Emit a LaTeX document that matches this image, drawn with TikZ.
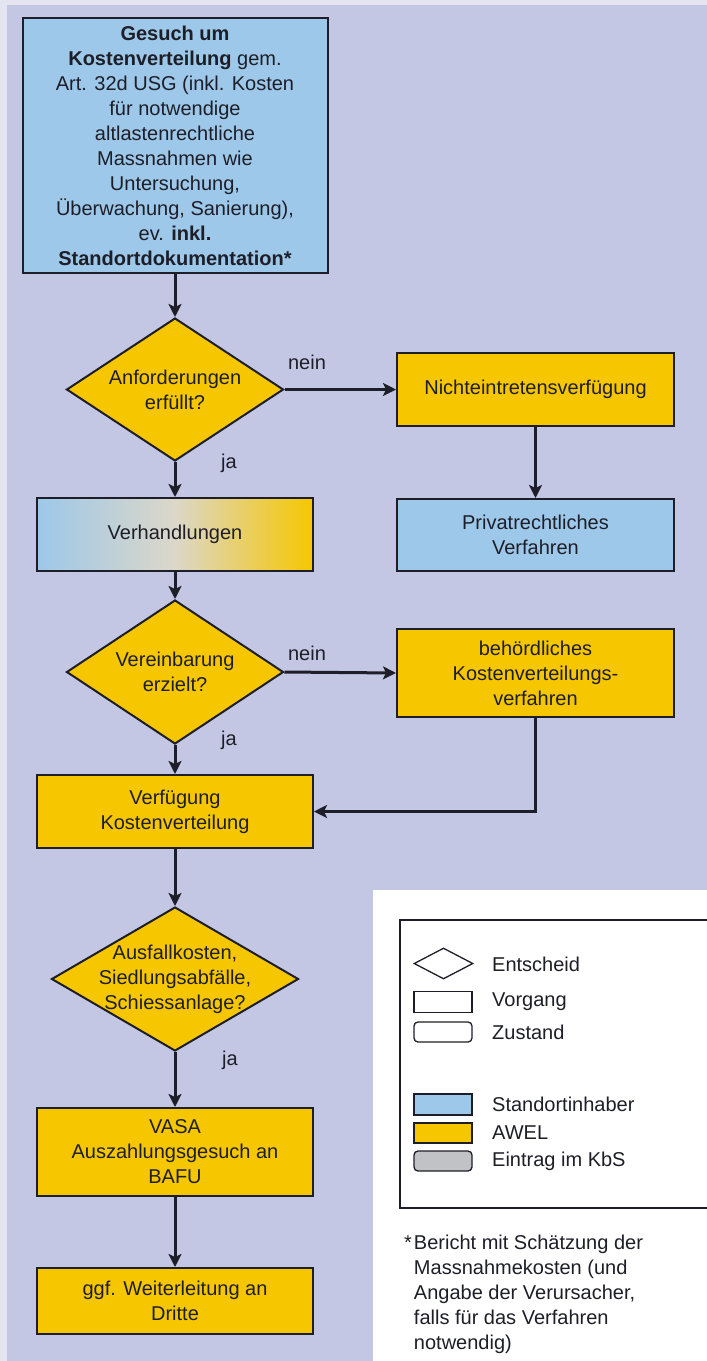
\documentclass[tikz,border=0pt]{standalone}
\usepackage{fontspec}
\setmainfont{Liberation Sans}
\usetikzlibrary{shapes.geometric,arrows.meta,calc}
\definecolor{lav}{HTML}{C3C7E4}
\definecolor{pale}{HTML}{E4E5F1}
\definecolor{blu}{HTML}{9DC8E9}
\definecolor{yel}{HTML}{F6C700}
\definecolor{gry}{HTML}{C0C2C6}
\definecolor{midc}{HTML}{DCD7C9}
\definecolor{ink}{HTML}{1E1E28}
\begin{document}
\begin{tikzpicture}[x=1pt,y=-1pt,
  font=\fontsize{20}{25}\selectfont, text=ink,
  box/.style={draw=ink, line width=2pt, rectangle, inner sep=0pt, align=center,
              minimum width=276pt},
  dia/.style={draw=ink, line width=2pt, diamond, fill=yel, inner sep=0pt},
  arr/.style={draw=ink, line width=3pt, -{Stealth[length=13pt,width=13pt,inset=3pt]}},
  lbl/.style={inner sep=0pt},
  lgsym/.style={draw=ink, line width=1.3pt, rectangle, inner sep=0pt,
                minimum width=58pt, minimum height=21pt},
  lgtxt/.style={anchor=west, inner sep=0pt}]
\useasboundingbox (0,0) rectangle (707,1361);
% background
\fill[pale] (0,0) rectangle (707,1361);
\fill[lav] (7,5) -- (707,5) -- (707,890) -- (373,890) -- (373,1361) -- (7,1361) -- cycle;
\fill[white] (373,890) rectangle (707,1361);

% flow nodes
\node[box, fill=blu, minimum width=305pt, minimum height=255pt] (gesuch) at (175,145.5)
  {\textbf{Gesuch um}\\\textbf{Kostenverteilung} gem.\\Art. 32d USG (inkl. Kosten\\für notwendige\\altlastenrechtliche\\Massnahmen wie\\Untersuchung,\\Überwachung, Sanierung),\\ev. \textbf{inkl.}\\\textbf{Standortdokumentation*}};

\node[dia, minimum width=217pt, minimum height=143pt,
      label={[align=center, inner sep=0pt]center:Anforderungen\\erfüllt?}] (d1) at (175,389.5) {};
\node[box, fill=yel, minimum width=277pt, minimum height=73pt] (nicht) at (535.5,389.5) {Nichteintretensverfügung};
\node[box, left color=blu, right color=yel, middle color=midc, minimum height=73pt] (verh) at (175,534.5) {Verhandlungen};
\node[box, fill=blu, minimum width=277pt, minimum height=72pt] (privat) at (535.5,535) {Privatrechtliches\\Verfahren};

\node[dia, minimum width=217pt, minimum height=144pt,
      label={[align=center, inner sep=0pt]center:Vereinbarung\\erzielt?}] (d2) at (175,672) {};
\node[box, fill=yel, minimum width=277pt, minimum height=88pt] (behoerd) at (535.5,673) {behördliches\\Kostenverteilungs-\\verfahren};
\node[box, fill=yel, minimum height=73pt] (verf) at (175,811.5) {Verfügung\\Kostenverteilung};

\node[dia, minimum width=247pt, minimum height=144pt,
      label={[align=center, inner sep=0pt]center:Ausfallkosten,\\Siedlungsabfälle,\\Schiessanlage?}] (d3) at (175,979) {};
\node[box, fill=yel, minimum height=88pt] (vasa) at (175,1152) {VASA\\Auszahlungsgesuch an\\BAFU};
\node[box, fill=yel, minimum height=66pt] (weiter) at (175,1301) {ggf. Weiterleitung an\\Dritte};

% connectors
\draw[arr] (gesuch.south) -- (d1.north);
\draw[arr] (d1.east) -- (nicht.west);
\draw[arr] (d1.south) -- (verh.north);
\draw[arr] (nicht.south) -- (privat.north);
\draw[arr] (verh.south) -- (d2.north);
\draw[arr] (d2.east) -- (behoerd.west);
\draw[arr] (d2.south) -- (verf.north);
\draw[arr] (behoerd.south) |- (verf.east);
\draw[arr] (verf.south) -- (d3.north);
\draw[arr] (d3.south) -- (vasa.north);
\draw[arr] (vasa.south) -- (weiter.north);

% connector labels
\node[lbl] (n1) at (307,362) {nein};
\node[lbl] (j1) at (229,463) {ja};
\node[lbl] (n2) at (307,653) {nein};
\node[lbl] (j2) at (229,740) {ja};
\node[lbl] (j3) at (230,1060) {ja};

% legend
\node[draw=ink, line width=1.5pt, rectangle, anchor=north west, inner sep=0pt,
      minimum width=330pt, minimum height=288pt] (legend) at (399,919) {};
\node[diamond, draw=ink, line width=1.3pt, fill=white, inner sep=0pt,
      minimum width=59pt, minimum height=31pt] (lg1) at (443.5,963.5) {};
\node[lgtxt] (lt1) at (492,964) {Entscheid};
\node[lgsym, fill=white] (lg2) at (443,1002) {};
\node[lgtxt] (lt2) at (492,1002) {Vorgang};
\node[lgsym, fill=white, rounded corners=4pt, minimum height=20pt] (lg3) at (443,1032) {};
\node[lgtxt] (lt3) at (492,1032) {Zustand};
\node[lgsym, fill=blu] (lg4) at (443,1104.5) {};
\node[lgtxt] (lt4) at (492,1104.5) {Standortinhaber};
\node[lgsym, fill=yel, minimum height=20pt] (lg5) at (443,1133) {};
\node[lgtxt] (lt5) at (492,1133) {AWEL};
\node[lgsym, fill=gry, rounded corners=4pt, minimum height=20pt] (lg6) at (443,1161) {};
\node[lgtxt] (lt6) at (492,1161) {Eintrag im KbS};

% footnote
\node[anchor=base west, inner sep=0pt] (foot) at (404,1249)
  {\begin{tabular}[t]{@{}l@{\hspace{2pt}}l@{}}
   *&Bericht mit Schätzung der\\
    &Massnahmekosten (und\\
    &Angabe der Verursacher,\\
    &falls für das Verfahren\\
    &notwendig)
   \end{tabular}};
\end{tikzpicture}
\end{document}
